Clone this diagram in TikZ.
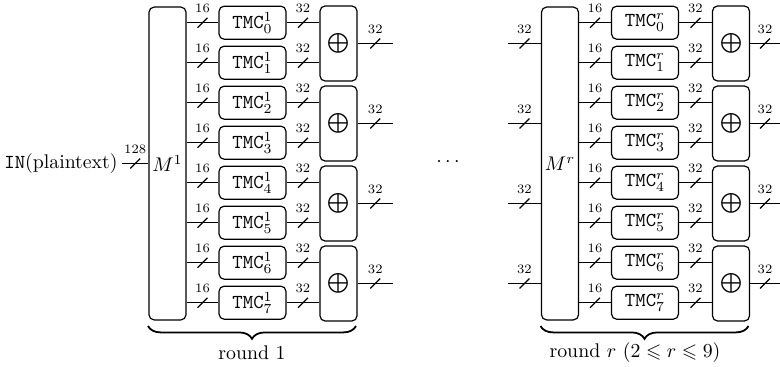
\documentclass[tikz,border=0pt]{standalone}
\usepackage{amssymb}
\usetikzlibrary{decorations.pathreplacing,decorations.markings,calc}
\tikzset{
  wire/.style={line width=0.6pt},
  lbl/.style={font=\fontsize{6.5}{7.5}\selectfont, inner sep=0pt},
  bus/.style={postaction={decorate,decoration={markings,mark=at position 0.5 with {\draw[line width=0.6pt] (-2.5pt,-2.5pt) -- (2.5pt,2.5pt); \node[lbl] at (0pt,7.3pt) {#1};}}}},
  mbox/.style={draw, line width=0.6pt, rounded corners=2.6pt, minimum width=18.7pt, minimum height=158pt, inner sep=0pt},
  tmcbox/.style={draw, line width=0.6pt, rounded corners=2.6pt, minimum width=33.8pt, minimum height=16.7pt, inner sep=0pt},
  xorbox/.style={draw, line width=0.6pt, rounded corners=2.6pt, minimum width=18.7pt, minimum height=37.9pt, inner sep=0pt},
  brc/.style={decorate, decoration={brace, mirror, amplitude=6.5pt}, line width=0.9pt},
}
% #1 prefix, #2 superscript, #3 x shift, #4 absolute x of output ends
\newcommand\roundblock[4]{%
  \begin{scope}[shift={(#3,0)}]
    \node[mbox] (#1M) at (167.5,163.5) {$M^{#2}$};
    \foreach \k in {0,...,7} {
      \node[tmcbox] (#1T\k) at (252.5,{22.7+40*\k}) {\texttt{TMC}$^{#2}_{\k}$};
      \draw[wire,bus=16] (#1T\k.west -| #1M.east) -- (#1T\k.west);
    }
    \foreach \j in {0,...,3} {
      \node[xorbox] (#1X\j) at (338.5,{43.5+80*\j}) {$\bigoplus$};
    }
    \foreach \k in {0,...,7} {
      \pgfmathtruncatemacro\jj{int(\k/2)}
      \draw[wire,bus=32] (#1T\k.east) -- (#1T\k.east -| #1X\jj.west);
    }
    \draw[brc] (148,326) -- (356,326);
  \end{scope}
  \foreach \j in {0,...,3} {
    \coordinate (#1O\j) at (#4,{43.5+80*\j});
    \draw[wire,bus=32] (#1X\j.east) -- (#1O\j);
  }
}
\begin{document}
\begin{tikzpicture}[x=0.505pt,y=-0.505pt]
\useasboundingbox (0,0) rectangle (780,367);

\roundblock{a}{1}{0}{393}
\roundblock{b}{r}{392.5}{780}

% input of round 1
\node[anchor=east, inner sep=0pt] (in) at (118,163.5) {\texttt{IN}(plaintext)};
\coordinate (inL) at (122,163.5);
\draw[wire,bus=128] (inL) -- (inL -| aM.west);

% inputs of round r
\foreach \j in {0,...,3} {
  \coordinate (bI\j) at (508,{43.5+80*\j});
  \draw[wire,bus=32] (bI\j) -- (bI\j -| bM.west);
}

\node (dots) at (448,162) {$\cdots$};

\node (r1) at (252,353) {round 1};
\node (rr) at (635,353) {round $r$ $(2\leqslant r\leqslant 9)$};
\end{tikzpicture}
\end{document}
